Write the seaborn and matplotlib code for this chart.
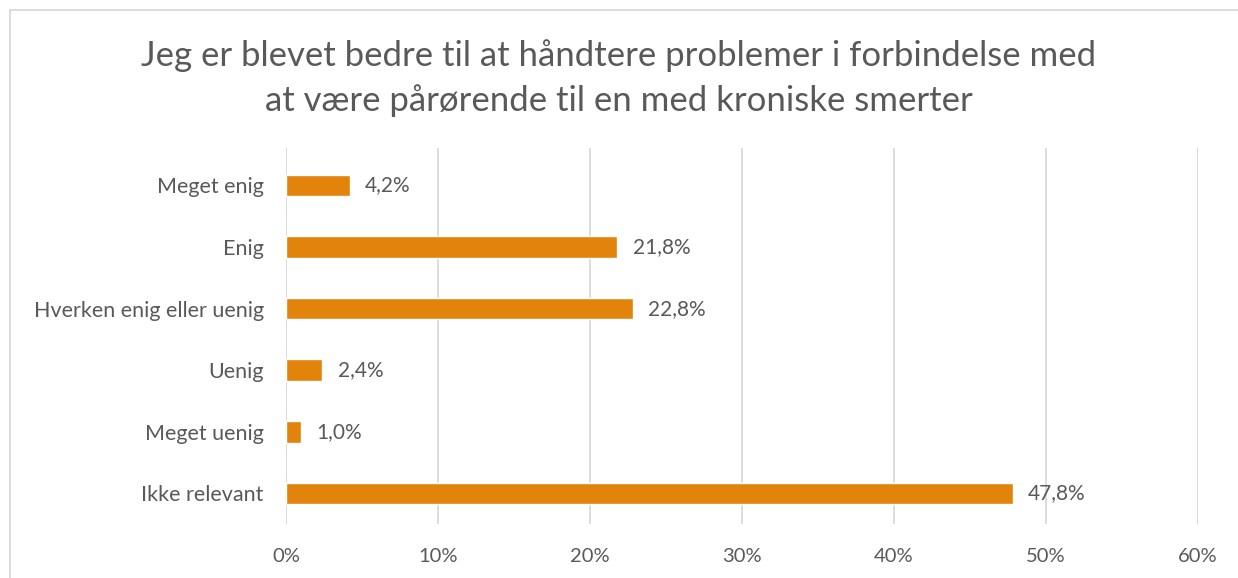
import pandas as pd
import matplotlib.pyplot as plt
from matplotlib.lines import Line2D
from matplotlib.ticker import FuncFormatter
import seaborn as sns

categories = ["Meget enig", "Enig", "Hverken enig eller uenig", "Uenig", "Meget uenig", "Ikke relevant"]
values = [4.2, 21.8, 22.8, 2.4, 1.0, 47.8]
title = "Jeg er blevet bedre til at håndtere problemer i forbindelse med\nat være pårørende til en med kroniske smerter"

df = pd.DataFrame({"svar": categories, "andel": values})

sns.set_style("white")
plt.rcParams["font.family"] = ["Lato", "DejaVu Sans"]
grey = "#595959"
orange = "#E2840C"

fig = plt.figure(figsize=(12.38, 5.78), dpi=100)
ax = fig.add_axes([0.231, 0.0929, 0.7367, 0.6502])

sns.barplot(data=df, x="andel", y="svar", color=orange, width=0.35,
            saturation=1, ax=ax)

ax.set_xlim(0, 60)
ax.set_ylim(5.5, -0.6)
ax.set_xticks(range(0, 61, 10))
ax.xaxis.set_major_formatter(FuncFormatter(lambda v, p: f"{int(v)}%"))
ax.grid(axis="x", color="#D9D9D9", linewidth=1.3)
ax.set_axisbelow(True)
for s in ax.spines.values():
    s.set_visible(False)
ax.tick_params(axis="x", length=0, pad=17, labelsize=14.5, labelcolor=grey)
ax.tick_params(axis="y", length=0, pad=16, labelsize=15.5, labelcolor=grey)
ax.set_xlabel("")
ax.set_ylabel("")

for i, v in enumerate(values):
    ax.text(v + 1.0, i, f"{v:.1f}%".replace(".", ","), va="center", ha="left",
            fontsize=15, color=grey)

fig.text(0.5, 0.865, title, ha="center", va="center", fontsize=25,
         color=grey, linespacing=1.45)

# chart border (only top and left visible in the crop)
fig.add_artist(Line2D([9.5 / 1238, 1], [1 - 9.5 / 578] * 2, color="#D9D9D9",
                      linewidth=1.3, transform=fig.transFigure))
fig.add_artist(Line2D([9.5 / 1238] * 2, [0, 1 - 9.5 / 578], color="#D9D9D9",
                      linewidth=1.3, transform=fig.transFigure))

fig.savefig("out.png", dpi=100, facecolor="white")
